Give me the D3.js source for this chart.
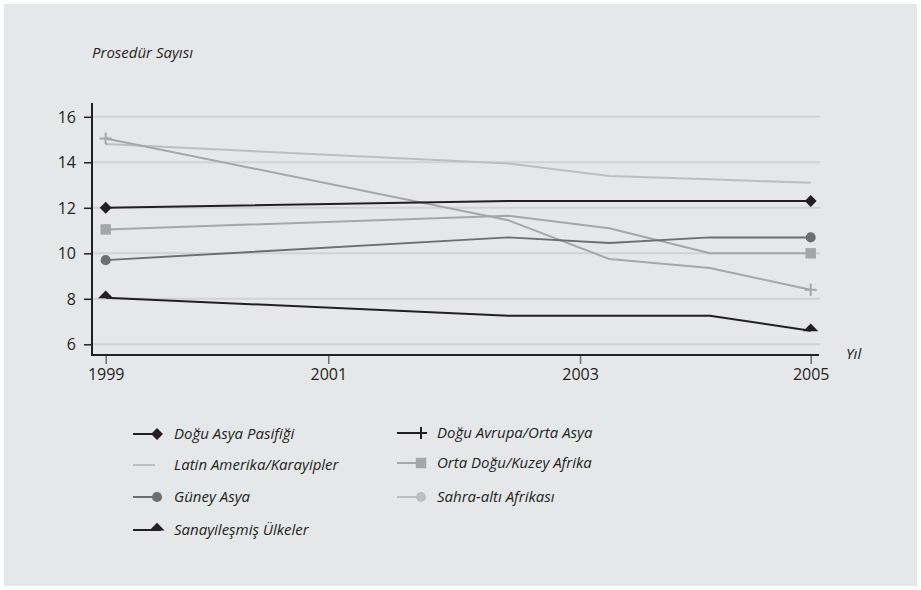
<!DOCTYPE html>
<html>
<head>
<meta charset="utf-8">
<script src="https://cdn.jsdelivr.net/npm/d3@7"></script>
<style>
  html, body { margin: 0; padding: 0; background: #ffffff; }
  svg { display: block; }
  text { font-family: "Open Sans", "Noto Sans", sans-serif; fill: #231f20; }
</style>
</head>
<body>
<svg id="chart" width="921" height="590"></svg>
<script>
// ---- data ----
// position of each observation on the (uneven) period axis
const periodIndex = [0, 4, 5, 6, 7];
const xTickPos = [0, 2.21, 4.71, 7];
const xTickLabels = ["1999", "2001", "2003", "2005"];
const yTicks = [6, 8, 10, 12, 14, 16];

const seriesNames = [
  "Doğu Asya Pasifiği",
  "Latin Amerika/Karayipler",
  "Güney Asya",
  "Sanayileşmiş Ülkeler",
  "Doğu Avrupa/Orta Asya",
  "Orta Doğu/Kuzey Afrika",
  "Sahra-altı Afrikası"
];
const doguAsyaPasifigi   = [12.0, 12.3, 12.3, 12.3, 12.3];
const latinAmerika       = [14.8, 13.95, 13.4, 13.25, 13.1];
const guneyAsya          = [9.7, 10.7, 10.45, 10.7, 10.7];
const sanayilesmis       = [8.05, 7.25, 7.25, 7.25, 6.6];
const doguAvrupa         = [15.05, 11.45, 9.75, 9.35, 8.4];
const ortaDogu           = [11.05, 11.65, 11.1, 10.0, 10.0];
const sahraAlti          = []; // not visible in the chart

const seriesValues = [doguAsyaPasifigi, latinAmerika, guneyAsya, sanayilesmis, doguAvrupa, ortaDogu, sahraAlti];

// ---- styles ----
const styles = [
  { color: "#231f20", marker: d3.symbolDiamond2, size: 90, legendColor: "#231f20", legendMarkerColor: "#231f20" },
  { color: "#bcbec0", marker: null, size: 0, legendColor: "#bcbec0" },
  { color: "#6d6e71", marker: d3.symbolCircle, size: 80, legendColor: "#6d6e71", legendMarkerColor: "#6d6e71" },
  { color: "#231f20", marker: d3.symbolTriangle, size: 55, legendColor: "#231f20", legendMarkerColor: "#231f20" },
  { color: "#a4a6a9", marker: "plus", size: 12, legendColor: "#231f20", legendMarkerColor: "#231f20" },
  { color: "#a4a6a9", marker: d3.symbolSquare, size: 110, legendColor: "#a4a6a9", legendMarkerColor: "#a4a6a9" },
  { color: "#bcbec0", marker: d3.symbolCircle, size: 80, legendColor: "#bcbec0", legendMarkerColor: "#bcbec0" }
];

const svg = d3.select("#chart");

// background panel
svg.append("rect").attr("x", 4).attr("y", 4).attr("width", 913).attr("height", 582).attr("fill", "#e6e7e8");

const x = d3.scaleLinear().domain([0, 7]).range([105.7, 810.7]);
const y = d3.scaleLinear().domain([6, 16]).range([344.3, 116.8]);

const axisLeftX = 92, axisBottomY = 355, plotRight = 820;

// grid lines
svg.append("g").selectAll("line").data(yTicks).join("line")
  .attr("x1", axisLeftX).attr("x2", plotRight)
  .attr("y1", d => y(d)).attr("y2", d => y(d))
  .attr("stroke", "#d1d2d4").attr("stroke-width", 2);

// y axis
const yAxis = d3.axisLeft(y).tickValues(yTicks).tickSize(8).tickPadding(8).tickFormat(d3.format("d"));
const gy = svg.append("g").attr("transform", `translate(${axisLeftX},0)`).call(yAxis);
gy.select(".domain").remove();
gy.selectAll(".tick line").attr("stroke", "#231f20").attr("stroke-width", 1.5);
gy.selectAll(".tick text").style("font-size", "16px").attr("fill", "#231f20").attr("dy", "0.34em");

// x axis
const xAxis = d3.axisBottom(x).tickValues(xTickPos).tickSize(9).tickPadding(5)
  .tickFormat((d, i) => xTickLabels[i]);
const gx = svg.append("g").attr("transform", `translate(0,${axisBottomY})`).call(xAxis);
gx.select(".domain").remove();
gx.selectAll(".tick line").attr("stroke", "#6d6e71").attr("stroke-width", 1.5);
gx.selectAll(".tick text").style("font-size", "16px").attr("fill", "#231f20");

// axis lines
svg.append("line").attr("x1", axisLeftX).attr("x2", axisLeftX).attr("y1", 103).attr("y2", axisBottomY + 1)
  .attr("stroke", "#231f20").attr("stroke-width", 2);
svg.append("line").attr("x1", axisLeftX - 1).attr("x2", 819).attr("y1", axisBottomY).attr("y2", axisBottomY)
  .attr("stroke", "#231f20").attr("stroke-width", 2);

// axis titles
svg.append("text").attr("x", 92).attr("y", 58).style("font-size", "15px").style("font-style", "italic")
  .style("font-weight", 500).text("Prosedür Sayısı");
svg.append("text").attr("x", 846).attr("y", 359).style("font-size", "15px").style("font-style", "italic")
  .style("font-weight", 500).text("Yıl");

// lines
const line = d3.line().x((d, i) => x(periodIndex[i])).y(d => y(d));
const plotOrder = [1, 5, 4, 2, 3, 0];

function drawMarker(g, st, cx, cy, color) {
  if (!st.marker) return;
  if (st.marker === "plus") {
    const h = st.size / 2;
    g.append("path").attr("d", `M${cx - h},${cy}H${cx + h}M${cx},${cy - h}V${cy + h}`)
      .attr("stroke", color).attr("stroke-width", 2).attr("fill", "none");
    return;
  }
  const sym = d3.symbol().type(st.marker).size(st.size);
  const p = g.append("path").attr("d", sym()).attr("fill", color);
  if (st.marker === d3.symbolTriangle) {
    p.attr("transform", `translate(${cx},${cy - 2}) scale(1.35,0.8)`);
  } else {
    p.attr("transform", `translate(${cx},${cy})`);
  }
}

plotOrder.forEach(si => {
  const vals = seriesValues[si];
  if (!vals.length) return;
  const st = styles[si];
  const g = svg.append("g");
  g.append("path").attr("d", line(vals)).attr("fill", "none")
    .attr("stroke", st.color).attr("stroke-width", 2).attr("stroke-linejoin", "round");
  const last = vals.length - 1;
  [0, last].forEach(i => drawMarker(g, st, x(periodIndex[i]), y(vals[i]), st.color));
});

// legend
const legendCols = [
  { items: [0, 1, 2, 3], x0: 133, textX: 174, rows: [434, 465, 497, 530] },
  { items: [4, 5, 6], x0: 397, textX: 437, rows: [433, 463, 497] }
];
legendCols.forEach(col => {
  col.items.forEach((si, k) => {
    const st = styles[si];
    const cy = col.rows[k];
    const g = svg.append("g");
    const markerX = col.x0 + 24;
    const lineEnd = st.marker ? (st.marker === d3.symbolCircle || st.marker === d3.symbolSquare ? markerX - 4 : markerX + 4) : col.x0 + 22;
    g.append("line").attr("x1", col.x0).attr("x2", lineEnd).attr("y1", cy).attr("y2", cy)
      .attr("stroke", st.legendColor).attr("stroke-width", 2);
    drawMarker(g, st, markerX, cy, st.legendMarkerColor || st.legendColor);
    g.append("text").attr("x", col.textX).attr("y", cy).attr("dy", "0.35em")
      .style("font-size", "15px").style("font-style", "italic").style("font-weight", 500)
      .text(seriesNames[si]);
  });
});
</script>
</body>
</html>
